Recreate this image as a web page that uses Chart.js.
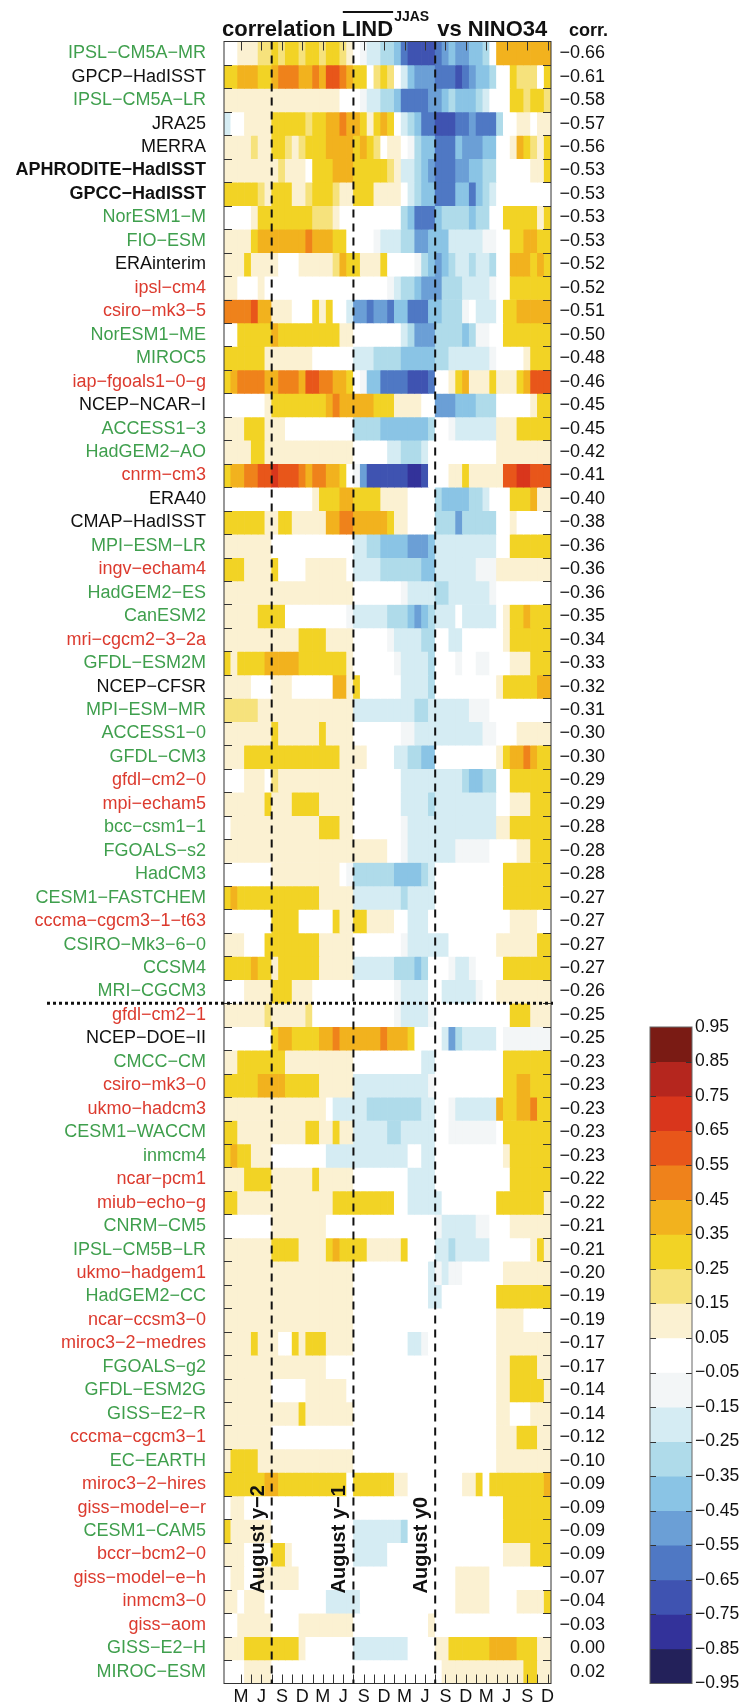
<!DOCTYPE html>
<html>
<head>
<meta charset="utf-8">
<script src="https://cdn.jsdelivr.net/npm/chart.js@4"></script>
<style>
  html, body { margin: 0; padding: 0; background: #fff; }
  #wrap { position: relative; width: 743px; height: 1707px; }
  #wrap canvas { position: absolute; left: 0; top: 0; }
</style>
</head>
<body>
<div id="wrap">
  <canvas id="heat" width="743" height="1707"></canvas>
  <canvas id="scalebar" width="743" height="1707"></canvas>
</div>
<script>
// ---- data -------------------------------------------------------------
// lag axis: 48 months, January of year y-2 through December of year y+1
const monthNames = ['Jan','Feb','Mar','Apr','May','Jun','Jul','Aug','Sep','Oct','Nov','Dec'];
const lagYears = ['y-2','y-1','y0','y+1'];
const tickMonths = [2, 5, 8, 11];           // Mar, Jun, Sep, Dec
const tickLetters = ['M', 'J', 'S', 'D'];
const augustMarks = ['August y-2', 'August y-1', 'August y0'];

// observations, reanalyses and models, sorted by corr.
const models = [
  'IPSL-CM5A-MR','GPCP-HadISST','IPSL-CM5A-LR','JRA25','MERRA','APHRODITE-HadISST','GPCC-HadISST',
  'NorESM1-M','FIO-ESM','ERAinterim','ipsl-cm4','csiro-mk3-5','NorESM1-ME','MIROC5','iap-fgoals1-0-g',
  'NCEP-NCAR-I','ACCESS1-3','HadGEM2-AO','cnrm-cm3','ERA40','CMAP-HadISST','MPI-ESM-LR','ingv-echam4',
  'HadGEM2-ES','CanESM2','mri-cgcm2-3-2a','GFDL-ESM2M','NCEP-CFSR','MPI-ESM-MR','ACCESS1-0','GFDL-CM3',
  'gfdl-cm2-0','mpi-echam5','bcc-csm1-1','FGOALS-s2','HadCM3','CESM1-FASTCHEM','cccma-cgcm3-1-t63',
  'CSIRO-Mk3-6-0','CCSM4','MRI-CGCM3','gfdl-cm2-1','NCEP-DOE-II','CMCC-CM','csiro-mk3-0','ukmo-hadcm3',
  'CESM1-WACCM','inmcm4','ncar-pcm1','miub-echo-g','CNRM-CM5','IPSL-CM5B-LR','ukmo-hadgem1','HadGEM2-CC',
  'ncar-ccsm3-0','miroc3-2-medres','FGOALS-g2','GFDL-ESM2G','GISS-E2-R','cccma-cgcm3-1','EC-EARTH',
  'miroc3-2-hires','giss-model-e-r','CESM1-CAM5','bccr-bcm2-0','giss-model-e-h','inmcm3-0','giss-aom',
  'GISS-E2-H','MIROC-ESM'
];
const ensemble = [
  'CMIP5','obs','CMIP5','obs','obs','obs','obs','CMIP5','CMIP5','obs','CMIP3','CMIP3','CMIP5','CMIP5','CMIP3',
  'obs','CMIP5','CMIP5','CMIP3','obs','obs','CMIP5','CMIP3','CMIP5','CMIP5','CMIP3','CMIP5','obs','CMIP5','CMIP5','CMIP5',
  'CMIP3','CMIP3','CMIP5','CMIP5','CMIP5','CMIP5','CMIP3','CMIP5','CMIP5','CMIP5','CMIP3','obs','CMIP5','CMIP3','CMIP3',
  'CMIP5','CMIP5','CMIP3','CMIP3','CMIP5','CMIP5','CMIP3','CMIP5','CMIP3','CMIP3','CMIP5','CMIP5','CMIP5','CMIP3','CMIP5',
  'CMIP3','CMIP3','CMIP5','CMIP3','CMIP3','CMIP3','CMIP3','CMIP5','CMIP5'
];
const referenceSets = ['APHRODITE-HadISST', 'GPCC-HadISST'];
const corr = [
  -0.66,-0.61,-0.58,-0.57,-0.56,-0.53,-0.53,-0.53,-0.53,-0.52,-0.52,-0.51,-0.50,-0.48,-0.46,
  -0.45,-0.45,-0.42,-0.41,-0.40,-0.38,-0.36,-0.36,-0.36,-0.35,-0.34,-0.33,-0.32,-0.31,-0.30,-0.30,
  -0.29,-0.29,-0.28,-0.28,-0.28,-0.27,-0.27,-0.27,-0.27,-0.26,-0.25,-0.25,-0.23,-0.23,-0.23,
  -0.23,-0.23,-0.22,-0.22,-0.21,-0.21,-0.20,-0.19,-0.19,-0.17,-0.17,-0.14,-0.14,-0.12,-0.10,
  -0.09,-0.09,-0.09,-0.09,-0.07,-0.04,-0.03,0.00,0.02
];
const splitAfter = 41;   // dotted separator below MRI-CGCM3

// lagged correlation, one row per entry of `models`, one value per month
const lagCorr = [
  [0,0,0.1,0.1,0.1,0.2,0.2,0.3,0.2,0.3,0.3,0.2, 0.3,0.3,0.2,0.3,0.3,0.2,0.1,0,-0.1,-0.2,-0.2,-0.3, -0.3,-0.4,-0.6,-0.7,-0.7,-0.7,-0.7,-0.6,-0.5,-0.4,-0.5,-0.5, -0.4,-0.4,-0.3,0,0.4,0.4,0.4,0.4,0.4,0.4,0.4,0.4],
  [0.3,0.3,0.4,0.4,0.4,0.3,0.3,0.4,0.5,0.5,0.5,0.4, 0.4,0.5,0.4,0.6,0.6,0.5,0.4,0.3,0.3,0,0.2,0.3, 0.2,0,-0.2,-0.4,-0.5,-0.5,-0.5,-0.6,-0.6,-0.6,-0.7,-0.6, -0.5,-0.4,-0.4,-0.3,0,0,0.3,0.2,0.2,0.2,0,0.3],
  [0.1,0.1,0.1,0.1,0.1,0.1,0.1,0.1,0.1,0.1,0.1,0.1, 0.1,0.1,0.1,0.1,0.1,0,0,0,-0.1,-0.2,-0.2,-0.3, -0.3,-0.4,-0.6,-0.6,-0.6,-0.6,-0.5,-0.5,-0.4,-0.3,-0.4,-0.4, -0.4,-0.3,-0.2,0,0,0,0.3,0.3,0.2,0.3,0.3,0.2],
  [-0.2,0,0,0.1,0.1,0.1,0.1,0.3,0.3,0.3,0.3,0.3, 0.2,0.3,0.3,0.4,0.4,0.5,0.4,0.4,0.3,0.1,0.3,0.4, 0.3,0,-0.2,-0.3,-0.4,-0.6,-0.6,-0.7,-0.7,-0.7,-0.6,-0.6, -0.5,-0.6,-0.6,-0.6,-0.3,0,0,0.1,0.1,0,0.1,0.1],
  [0.1,0.1,0.1,0.1,0.2,0.1,0.1,0.3,0.3,0.2,0.1,0.2, 0.3,0.3,0.3,0.4,0.4,0.4,0.4,0.3,0.4,0.3,0.2,0, 0.1,0.1,0,-0.1,-0.3,-0.4,-0.4,-0.6,-0.6,-0.6,-0.4,-0.5, -0.5,-0.5,-0.4,-0.4,0,0,0.1,0.4,0.3,0.2,0.1,0.3],
  [0.1,0.1,0.1,0.1,0.1,0.1,0.1,0.1,0.2,0.1,0.1,0.1, 0,0.3,0.3,0.3,0.4,0.4,0.4,0.3,0.3,0.3,0.3,0.3, 0.2,0.1,-0.2,-0.2,-0.3,-0.4,-0.5,-0.6,-0.6,-0.6,-0.5,-0.5, -0.4,-0.4,-0.3,-0.3,0,0,0,0,0,0.1,0.1,0.3],
  [0.3,0.3,0.3,0.3,0.3,0.2,0.1,0.3,0.3,0.3,0.1,0.1, 0.2,0.3,0.3,0.3,0.2,0.1,0.1,0.3,0.3,0.3,0.1,0.1, 0.1,0.1,0,-0.2,-0.3,-0.4,-0.4,-0.6,-0.6,-0.6,-0.4,-0.4, -0.6,-0.4,-0.3,-0.2,0,0,0,0,0,0,0,0],
  [0,0,0,0,0.1,0.3,0.3,0.3,0.3,0.3,0.3,0.3, 0.3,0.2,0.2,0.2,0.1,0,0,0,0,0,0,0, 0,0,-0.3,-0.4,-0.6,-0.6,-0.6,-0.4,-0.3,-0.3,-0.3,-0.3, -0.4,-0.3,-0.3,0,0,0.3,0.3,0.3,0.3,0.3,0.1,0.3],
  [0.1,0.1,0.1,0.1,0.3,0.4,0.4,0.4,0.4,0.4,0.4,0.4, 0.5,0.4,0.4,0.4,0.3,0.3,0,0,0,0,-0.1,-0.2, -0.2,-0.2,-0.3,-0.3,-0.5,-0.5,-0.4,-0.4,-0.4,-0.2,-0.2,-0.2, -0.2,-0.2,-0.1,-0.1,0,0,0.3,0.3,0.4,0.4,0.3,0.3],
  [0.1,0.1,0.1,0.3,0.1,0.1,0.1,0.1,0,0,0,0.1, 0.1,0.1,0.1,0.1,0.2,0.4,0.3,0.3,0.1,0.1,0.1,0.3, 0,0,0,0,-0.1,-0.3,-0.4,-0.5,-0.4,-0.3,-0.2,-0.2, -0.3,-0.2,-0.2,-0.3,0,0,0.4,0.4,0.4,0.3,0.4,0.3],
  [0.1,0.1,0,0,0,0.1,0,0,0,0,0,0, 0,0,0,0,0,0,0,0,0,0,0,0, -0.1,-0.2,-0.3,-0.3,-0.4,-0.5,-0.5,-0.5,-0.3,-0.3,-0.3,-0.2, -0.2,-0.2,-0.2,-0.1,0,0,0.3,0.3,0.3,0.3,0.3,0.3],
  [0.5,0.5,0.5,0.5,0.6,0.4,0.4,0.1,0.1,0.1,0,0, 0,0.3,0.1,0.3,0,0,-0.2,-0.5,-0.5,-0.6,-0.5,-0.5, -0.6,-0.4,-0.4,-0.6,-0.6,-0.6,-0.4,-0.4,-0.3,-0.3,-0.3,-0.1, 0,-0.2,-0.2,-0.2,0,0.3,0.3,0.4,0.4,0.4,0.4,0.4],
  [0,0,0.3,0.3,0.3,0.3,0.3,0.4,0.3,0.3,0.3,0.3, 0.3,0.3,0.3,0.3,0.3,0.1,0.1,0,0,0,0,0, 0,0,-0.2,-0.3,-0.5,-0.5,-0.5,-0.3,-0.3,-0.3,-0.3,-0.4, -0.3,-0.1,-0.1,0,0,0.3,0.3,0.3,0.3,0.3,0.3,0.3],
  [0.3,0.3,0.3,0.3,0.3,0.3,0.1,0.1,0.1,0.1,0.1,0.1, 0.1,0,0,0,0,0,0,-0.2,-0.2,-0.2,-0.3,-0.3, -0.3,-0.3,-0.4,-0.4,-0.4,-0.4,-0.4,-0.3,-0.3,-0.2,-0.2,-0.2, -0.2,-0.2,-0.2,-0.1,0,0,0,0,0.1,0.3,0.3,0.3],
  [0.3,0.4,0.5,0.5,0.5,0.5,0.4,0.4,0.5,0.5,0.5,0.4, 0.6,0.6,0.5,0.5,0.4,0.4,0.3,0,-0.1,-0.4,-0.4,-0.6, -0.6,-0.6,-0.6,-0.7,-0.7,-0.7,-0.6,0,0,0.1,0.3,0.4, 0.1,0.1,0.1,0.3,0.1,0.1,0.1,0.3,0.4,0.6,0.6,0.6],
  [0,0,0,0,0,0,0.1,0.3,0.3,0.3,0.3,0.3, 0.3,0.3,0.3,0.4,0.5,0.4,0.4,0.4,0.4,0.4,0.3,0.3, 0.3,0.1,0.1,0.1,0.1,0,0,-0.5,-0.5,-0.5,-0.4,-0.4, -0.4,-0.3,-0.3,-0.3,0,0,0,0,0,0.1,0.3,0.3],
  [0.1,0.1,0.1,0.3,0.3,0.3,0.1,0.1,0.1,0,0,0, 0,0,0,0,0,0,0,-0.3,-0.3,-0.3,-0.3,-0.4, -0.4,-0.4,-0.4,-0.4,-0.4,-0.4,-0.3,0,0,-0.1,-0.2,-0.2, -0.2,-0.2,-0.2,-0.2,0.1,0.1,0.1,0.3,0.3,0.3,0.3,0.3],
  [0.1,0.1,0.1,0.1,0.3,0.3,0.1,0.1,0.1,0.1,0.1,0.1, 0.1,0.1,0.1,0.1,0.1,0.1,0.1,0,0,0,0,0, -0.2,-0.2,-0.3,-0.3,-0.3,-0.2,0,0,0,0,0,0, 0,0,0,0,0.1,0.1,0.1,0.1,0.1,0.1,0.1,0.1],
  [0.3,0.4,0.4,0.5,0.5,0.6,0.6,0.7,0.6,0.6,0.6,0.5, 0.4,0.5,0.5,0.4,0.4,0.3,0,-0.1,-0.5,-0.7,-0.7,-0.7, -0.7,-0.7,-0.7,-0.8,-0.8,-0.7,0,0,0,0.1,0.1,0.3, 0.1,0.1,0.1,0.1,0.1,0.6,0.6,0.7,0.7,0.6,0.6,0.6],
  [0,0,0,0,0,0,0,0,0,0,0,0, 0,0.1,0.3,0.3,0.3,0.4,0.4,0.3,0.3,0.3,0.3,0.1, 0.1,0.1,0.1,0,0,0,0,-0.3,-0.4,-0.4,-0.4,-0.4, -0.3,-0.3,-0.2,0,0,0,0.3,0.3,0.3,0.4,0.1,0.1],
  [0.3,0.3,0.3,0.3,0.3,0.3,0.1,0.1,0.3,0.3,0.1,0.1, 0.1,0.1,0.1,0.4,0.4,0.5,0.5,0.4,0.4,0.4,0.4,0.4, 0.3,0.1,0.1,0,0,0,0,-0.3,-0.3,-0.3,-0.5,-0.3, -0.3,-0.3,-0.3,-0.3,0,0,0.1,0,0,0,0,0],
  [0.1,0.1,0.1,0.1,0.1,0.1,0.1,0,0,0,0,0, 0,0,0,0,0,0,0,-0.2,-0.2,-0.3,-0.3,-0.4, -0.4,-0.4,-0.4,-0.5,-0.5,-0.5,-0.4,-0.2,-0.2,-0.2,-0.2,-0.2, -0.2,-0.2,-0.2,-0.2,0,0,0.3,0.3,0.3,0.3,0.3,0.3],
  [0.3,0.3,0.3,0.1,0.1,0.1,0.1,0.3,0,0,0,0, 0.1,0.1,0.1,0.1,0.1,0.1,0,-0.2,-0.2,-0.2,-0.2,-0.3, -0.3,-0.3,-0.3,-0.3,-0.3,-0.4,-0.4,-0.2,-0.2,-0.2,-0.2,-0.2, -0.2,-0.1,-0.1,-0.1,0.1,0.1,0.1,0.1,0.1,0.1,0.1,0.1],
  [0.1,0.1,0.1,0.1,0.1,0.1,0.1,0.1,0.1,0.1,0.1,0.1, 0.1,0.1,0.1,0.1,0.1,0.1,0.1,0,0,0,0,0, 0,0,-0.1,-0.2,-0.2,-0.2,-0.2,-0.3,-0.3,-0.2,-0.2,-0.2, -0.2,-0.2,-0.2,-0.1,0,0,0,0,0,0,0,0],
  [0.1,0.1,0.1,0.1,0.1,0.3,0.3,0.3,0.3,0,0,0, 0,0,0,0,0,0,-0.1,-0.2,-0.2,-0.2,-0.2,-0.2, -0.3,-0.3,-0.3,-0.4,-0.5,-0.4,-0.3,-0.2,-0.2,-0.2,0,-0.2, -0.2,-0.2,-0.2,-0.2,0,0.1,0.3,0.3,0.4,0.3,0.3,0.3],
  [0.1,0.1,0.1,0.1,0.1,0.1,0.1,0.1,0.1,0.1,0.1,0.3, 0.3,0.3,0.3,0.1,0.1,0.1,0.1,0,0,0,0,0, -0.1,-0.2,-0.2,-0.2,-0.2,-0.3,-0.3,0,0,-0.2,-0.2,0, 0,0,0,0,0,0.1,0.3,0.3,0.3,0.3,0.3,0.3],
  [0.3,0.1,0.3,0.3,0.3,0.3,0.4,0.4,0.4,0.4,0.4,0.3, 0.3,0.3,0.3,0.3,0.3,0.3,0.1,0,0,0,0,0, 0,-0.1,-0.2,-0.2,-0.2,-0.2,-0.3,0,0,0,-0.1,0, 0,-0.1,-0.1,0,0,0,0.1,0.1,0.1,0.3,0.3,0.3],
  [0.1,0.1,0.1,0.1,0,0,0,0.1,0.1,0.1,0,0, 0,0,0,0,0.4,0.4,0.1,0.3,0,0,0,0, 0,0,-0.2,-0.2,-0.2,-0.2,-0.3,0,0,0,0,0, 0,0,0,0,0.1,0.3,0.3,0.3,0.3,0.3,0.4,0.4],
  [0.2,0.2,0.2,0.2,0.2,0.1,0.1,0.1,0.1,0.1,0.1,0.1, 0.1,0.1,0.1,0.1,0.1,0.1,0.1,-0.2,-0.2,-0.2,-0.2,-0.2, -0.2,-0.2,-0.2,-0.2,-0.3,-0.3,-0.2,-0.2,-0.2,-0.2,-0.2,-0.2, -0.1,-0.1,-0.1,0,0,0,0,0,0,0,0,0],
  [0.1,0.1,0.1,0.1,0.1,0.1,0.1,0.3,0.1,0.1,0.1,0.1, 0.1,0.1,0.3,0.1,0.1,0.1,0.1,0,0,0,0,0, 0,0,-0.1,-0.1,-0.2,-0.2,-0.2,-0.2,-0.2,-0.2,-0.2,-0.2, -0.2,-0.2,-0.1,-0.1,0,0,0,0.1,0.1,0.1,0.1,0.1],
  [0.1,0.1,0.1,0.3,0.3,0.3,0.3,0.3,0.3,0.3,0.3,0.3, 0.3,0.3,0.3,0.3,0.3,0.1,0.1,0.1,0.1,0,0,0, 0,-0.2,-0.2,-0.3,-0.3,-0.4,-0.4,0,0,0,0,0, 0,0,0,0,0.1,0.3,0.4,0.4,0.5,0.4,0.3,0.3],
  [0,0,0,0.1,0.1,0.1,0,0.2,0.1,0.1,0.1,0.1, 0.1,0.1,0.1,0.1,0.1,0.1,0.1,0,0,0,0,0, 0,0,-0.2,-0.2,-0.2,-0.2,-0.2,-0.2,-0.2,-0.2,-0.2,-0.3, -0.4,-0.4,-0.3,-0.3,0,0,0.3,0.3,0.3,0.3,0.3,0.3],
  [0.1,0.1,0.1,0.1,0.1,0.1,0.3,0.1,0.1,0.1,0.3,0.3, 0.3,0.3,0.1,0.1,0.1,0.1,0.1,0,0,0,0,0, 0,0,-0.2,-0.2,-0.2,-0.2,-0.3,-0.2,-0.2,-0.2,-0.2,-0.2, -0.2,-0.2,-0.2,-0.2,0,0,0.1,0.1,0.1,0.3,0.3,0.3],
  [0,0.1,0.1,0.1,0.1,0.1,0.1,0.1,0.1,0.1,0.1,0.1, 0.1,0.1,0.3,0.3,0.3,0.1,0.1,0,0,0,0,0, 0,0,-0.1,-0.2,-0.2,-0.2,-0.2,-0.2,-0.2,-0.2,-0.2,-0.2, -0.2,-0.2,-0.2,-0.2,0.1,0.1,0.3,0.3,0.3,0.3,0.3,0.3],
  [0.1,0.1,0.1,0.1,0.1,0.1,0.1,0.1,0.1,0.1,0.1,0.1, 0.1,0.1,0.1,0.1,0.1,0.1,0.1,0.1,0.1,0.1,0.1,0.1, 0,0,-0.1,-0.2,-0.2,-0.2,-0.2,-0.2,-0.2,-0.2,-0.1,-0.1, -0.1,-0.1,-0.1,0,0,0,0,0.1,0.1,0.3,0.3,0.3],
  [0,0,0,0,0,0,0,0.1,0.1,0.1,0.1,0.1, 0.1,0.1,0.1,0.1,0.1,0,-0.1,-0.3,-0.3,-0.3,-0.3,-0.3, -0.3,-0.4,-0.4,-0.4,-0.4,-0.3,-0.2,0,0,0,0,0, 0,0,0,0,0,0.3,0.3,0.3,0.3,0.3,0.3,0.3],
  [0.3,0.4,0.3,0.3,0.3,0.3,0.3,0.3,0.3,0.3,0.3,0.3, 0.3,0.3,0.1,0.1,0.1,0.1,0.1,-0.2,-0.2,-0.2,-0.2,-0.2, -0.2,-0.2,-0.3,-0.2,-0.2,-0.2,-0.2,0,0,0,0,0, 0,0,0,0,0,0.3,0.3,0.3,0.3,0.3,0.3,0.3],
  [0,0,0,0,0,0,0,0.3,0.3,0.3,0.3,0, 0,0,0,0,0.3,0.1,0.1,0.3,0.3,0.1,0.1,0.1, 0.1,0,0,-0.2,-0.2,-0.2,0,0,0,0,0,0, 0,0,0,0,0,0,0.1,0.1,0.1,0.1,0,0],
  [0.1,0.1,0.1,0,0,0,0.3,0.3,0.3,0.3,0.3,0.3, 0.3,0.3,0.1,0.1,0.1,0.1,0.1,0,0,0,0,0, 0,0,-0.1,-0.2,-0.2,-0.2,-0.2,-0.2,-0.2,0,0,0, 0,0,0,0,0.1,0.1,0.1,0.1,0.1,0.1,0.3,0.3],
  [0.3,0.3,0.3,0.3,0.4,0.3,0.3,0.1,0.3,0.3,0.3,0.3, 0.3,0.3,0.1,0.1,0.1,0.1,0.1,-0.2,-0.2,-0.2,-0.2,-0.2, -0.2,-0.3,-0.3,-0.3,-0.4,-0.3,0,0,0,-0.1,-0.2,-0.2, -0.1,0,0,0,0,0.3,0.3,0.3,0.3,0.3,0.3,0.3],
  [0,0,0,0.1,0.1,0.1,0.1,0.3,0.3,0.3,0.1,0.1, 0.1,0,0,0,0,0,0,0,0,0,0,0, 0,-0.1,-0.2,-0.2,-0.2,-0.2,0,0,-0.2,-0.2,-0.2,-0.2, -0.2,-0.1,0,0,0.1,0.1,0.1,0.1,0.1,0.1,0.1,0.1],
  [0.1,0.1,0.1,0.1,0.1,0.1,0.2,0.1,0.1,0.1,0.1,0.1, 0.2,0,0,0,0,0,0,0,0,0,0,0, 0,-0.1,-0.2,-0.2,-0.2,-0.2,-0.1,0,0,0,0,0, 0,0,0,0,0,0,0.3,0.3,0.3,0.1,0.1,0.1],
  [0,0,0,0,0,0,0,0.3,0.4,0.4,0.3,0.3, 0.3,0.3,0.4,0.4,0.5,0.4,0.4,0.4,0.4,0.4,0.4,0.5, 0.4,0.4,0.4,0.3,0,0,0,0,-0.2,-0.5,-0.3,-0.2, -0.2,-0.2,-0.2,-0.2,0,-0.1,-0.1,-0.1,-0.1,-0.1,-0.1,-0.1],
  [0.1,0.1,0.3,0.3,0.3,0.3,0.3,0.3,0.3,0.1,0.1,0.1, 0.1,0.1,0.1,0.1,0.1,0.1,0.1,0,0,0,0,0, 0,0,0,0,0,-0.2,-0.2,0,0,0,0,0, 0,0,0,0,0,0.3,0.3,0.3,0.3,0.3,0.3,0.3],
  [0.3,0.3,0.3,0.3,0.3,0.4,0.4,0.4,0.4,0.3,0.3,0.3, 0.3,0.3,0.1,0.1,0.1,0.1,0.1,-0.2,-0.2,-0.2,-0.2,-0.2, -0.2,-0.2,-0.2,-0.2,-0.2,-0.2,-0.1,0,0,0,0,0, 0,0,0,0,0,0.3,0.3,0.4,0.4,0.3,0.3,0.3],
  [0.1,0.1,0.1,0.1,0.1,0.1,0.1,0.1,0.1,0.1,0.1,0.1, 0.1,0.1,0.1,0,-0.2,-0.2,-0.2,-0.2,-0.2,-0.3,-0.3,-0.3, -0.3,-0.3,-0.3,-0.3,-0.3,-0.2,-0.2,0,0,-0.1,-0.2,-0.2, -0.2,-0.2,-0.2,-0.2,0.4,0.3,0.3,0.4,0.4,0.5,0.3,0.3],
  [0.3,0.3,0.1,0.1,0.1,0.1,0.1,0.1,0.1,0.1,0.1,0.1, 0.3,0.3,0.1,0.1,0.3,0.1,0.1,-0.2,-0.2,-0.2,-0.2,-0.2, -0.3,-0.3,-0.2,-0.2,-0.2,-0.2,-0.2,0,0,-0.1,-0.1,-0.1, -0.1,-0.1,-0.1,-0.1,0,0.3,0.3,0.3,0.3,0.3,0.3,0.3],
  [0.3,0.4,0.3,0.3,0.1,0.1,0.1,0,0,0,0,0, 0,0,0,-0.2,-0.2,-0.2,-0.2,-0.2,-0.2,-0.2,-0.2,-0.2, -0.2,-0.2,-0.2,0,0,-0.2,-0.2,0,0,0,0,0, 0,0,0,0,0,0.1,0.3,0.3,0.3,0.3,0.3,0.3],
  [0.1,0.1,0.1,0.3,0.3,0.3,0.3,0.1,0.1,0.1,0.1,0.1, 0.1,0.3,0.1,0.1,0.1,0.1,0.1,0,0,0,0,0, 0,0,0,-0.2,-0.2,-0.2,-0.2,0,0,0,0,0, 0,0,0,0,0,0,0.3,0.3,0.3,0.3,0.3,0.3],
  [0.3,0.3,0.1,0.1,0.1,0.1,0.1,0.1,0.1,0.1,0.1,0.1, 0.1,0.1,0.1,0.1,0.3,0.3,0.3,0.3,0.3,0.3,0.3,0.3, 0.3,0,0,-0.2,-0.2,-0.2,-0.2,-0.2,0,0,0,0, 0,0,0,0,0.3,0.3,0.3,0.3,0.3,0.3,0.3,0.1],
  [0,0,0,0,0,0,0,0.1,0.1,0.1,0.1,0.1, 0.1,0.1,0.1,0,0,0,0,0,0,0,0,0, 0,0,0,0,0,0,0,-0.1,-0.2,-0.2,-0.2,-0.2, -0.2,-0.1,-0.1,0,0,0,0.1,0.1,0.1,0.1,0.1,0.1],
  [0.1,0.1,0.1,0.1,0.1,0.1,0.1,0.3,0.3,0.3,0.3,0.1, 0.1,0.1,0.1,0.3,0.4,0.3,0.3,0.3,0.3,0.1,0.1,0.1, 0.1,0.1,0.3,0,0,0,0,-0.2,-0.2,-0.3,-0.2,-0.2, -0.2,-0.2,-0.2,0,0,0,0,0,0,0.1,0.3,0.1],
  [0.1,0.1,0.1,0.1,0.1,0.1,0.1,0.1,0.1,0.1,0.1,0.1, 0.1,0.1,0.1,0.1,0.1,0.1,0.1,0,0,0,0,0, 0,0,0,0,0,0,-0.2,-0.1,-0.2,-0.1,-0.1,0, 0,0,0,0,0,0.1,0.1,0.1,0.1,0.1,0.1,0.1],
  [0.1,0.1,0.1,0.1,0.1,0.1,0.1,0.1,0.1,0.1,0.1,0.1, 0.1,0.1,0.1,0.1,0.1,0.1,0.1,0,0,0,0,0, 0,0,0,0,0,0,-0.2,-0.2,0,0,0,0, 0,0,0,0,0.3,0.3,0.3,0.3,0.3,0.3,0.3,0.3],
  [0.1,0.1,0.1,0.1,0.1,0.1,0.1,0.1,0.1,0.1,0.1,0.1, 0.1,0.1,0.1,0.1,0.1,0.1,0.1,0,0,0,0,0, 0,0,0,0,0,0,0,0,0,0,0,0, 0,0,0,0,0.1,0.1,0.1,0.1,0,0,0,0],
  [0.1,0.1,0.1,0.1,0.3,0.1,0.1,0.1,0,0,0.3,0.1, 0.3,0.3,0.3,0.1,0.1,0.1,0.1,0,0,0,0,0, 0,0,0,-0.2,-0.2,-0.1,0,0,0,0,0,0, 0,0,0,0,0.1,0.1,0.1,0.1,0.1,0.1,0.1,0.1],
  [0.1,0.1,0.1,0.1,0.1,0.1,0.1,0.1,0.1,0.1,0.1,0.1, 0.1,0.1,0.1,0,0,0,0,0,0,0,0,0, 0,0,0,0,0,0,0,0,0,0,0,0, 0,0,0,0,0.1,0.1,0.3,0.3,0.3,0.3,0.1,0.1],
  [0.1,0.1,0.1,0.1,0.1,0.1,0.1,0,0,0,0,0, 0.1,0.1,0.1,0.1,0.1,0.1,0,0,0,0,0,0, 0,0,0,0,0,0,0,0,0,0,0,0, 0,0,0,0,0.1,0.1,0.3,0.3,0.3,0.3,0.3,0.1],
  [0.1,0.1,0.1,0.1,0.1,0.1,0.1,0.1,0.1,0.1,0.1,0.3, 0.1,0.1,0.1,0.1,0.1,0.1,0.1,0,0,0,0,0, 0,0,0,0,0,0,0,0,0,0,0,0, 0,0,0,0,0.1,0.1,0,0,0,0.1,0.1,0.1],
  [0.1,0.1,0.1,0.1,0.1,0.1,0.1,0,0,0,0,0, 0,0,0,0,0,0,0,0,0,0,0,0, 0,0,0,0,0,0,0,0,0,0,0,0, 0,0,0,0,0.1,0.1,0.1,0.3,0.3,0.3,0.1,0.1],
  [0.1,0.3,0.3,0.3,0.3,0.1,0.1,0.1,0.1,0.1,0.1,0.1, 0.1,0.1,0.1,0.1,0.1,0.1,0.1,0,0,0,0,0, 0,0,0,0,0,0,0,0,0,0,0,0, 0,0,0,0,0.1,0.1,0.1,0.1,0.1,0.1,0.1,0.1],
  [0.3,0.3,0.3,0.3,0.3,0.3,0.4,0.4,0.3,0.3,0.3,0.3, 0.3,0.3,0.3,0.3,0.3,0.3,0,0.3,0.3,0.3,0.3,0.3, 0.3,0.1,0.1,0,0,0,0,0,0,0,0,0.1, 0.1,0.3,0,0.3,0.3,0.3,0.3,0.3,0.3,0.3,0.3,0.4],
  [0,0.1,0.1,0,0,0,0,0,0,0,0,0, 0,0,0,0,0,0,0,0,0,0,0,0, 0,0,0,0,0,0,0,0,0,0,0,0, 0,0,0,0,0,0.3,0.3,0.3,0.3,0.3,0.3,0.3],
  [0.3,0.1,0.1,0.1,0.1,0.1,0.1,0,0,0,0,0, 0,0,0,0,0,0,0,-0.2,-0.2,-0.2,-0.2,-0.2, -0.2,-0.2,-0.3,0,0,0,0,0,0,0,0,0, 0,0,0,0,0,0.3,0.3,0.3,0.3,0.3,0.3,0.3],
  [0.1,0.1,0.1,0,0,0,0,0.3,0.3,0.1,0,0, 0,0,0,0,0,0,0,-0.2,-0.2,-0.2,-0.2,-0.2, 0,0,0,0,0,0,0,0,0,0,0,0, 0,0,0,0,0,0.1,0.1,0.1,0.1,0.3,0.3,0.3],
  [0,0.1,0.1,0,0,0.1,0.1,0.1,0.1,0.1,0.1,0, 0,0,0,0,0,0,0,0,0,0,0,0, 0,0,0,0,0,0,0,0,0,0,0.1,0.1, 0.1,0.1,0.1,0,0,0,0,0,0,0,0,0],
  [0.1,0.1,0,0.1,0.1,0.1,0,0,0,0,0,0, 0,0,0,-0.2,-0.2,-0.2,-0.2,-0.2,0,0,0,0, 0,0,0,0,0,0,0,0,0,0,0.1,0.1, 0.1,0.1,0.1,0,0,0,0,0.1,0.1,0.1,0.1,0.3],
  [0,0,0.1,0.1,0.1,0.1,0.1,0,0,0,0,0.1, 0.1,0.1,0.1,0.1,0.1,0.1,0.1,0,0,0,0,0, 0,0,0,0,0,0,0.1,0,0,0,0,0, 0,0,0,0,0,0,0,0,0,0,0,0],
  [0.1,0.1,0.1,0.3,0.3,0.3,0.3,0.3,0.3,0.3,0.3,0.1, 0,0,0,0,0,0,0,-0.2,-0.2,-0.2,-0.2,-0.2, -0.2,-0.2,-0.2,0,0,0,0,0.1,0.1,0.3,0.3,0.3, 0.3,0.3,0.3,0.4,0.4,0.4,0.4,0.3,0.3,0.3,0.1,0.1],
  [0,0,0,0.1,0.1,0.1,0.1,0,0,0,0,0, 0,0,0,0,0,0,0,0,0,0,0,0, 0,0,0,0,0,0,0,0,0.1,0.1,0.1,0.1, 0.1,0.1,0.1,0.1,0.1,0.1,0.1,0.1,0.3,0.3,0.1,0.1]
];

// colour scale: 0.1-wide classes between the colour-bar edges
const scaleEdges = [0.95,0.85,0.75,0.65,0.55,0.45,0.35,0.25,0.15,0.05,-0.05,-0.15,-0.25,-0.35,-0.45,-0.55,-0.65,-0.75,-0.85,-0.95];
const classColors = [
  '#7a1b14', '#b5261e', '#d9361c', '#e8561a', '#ef821b', '#f2b21e', '#f2d325', '#f6e27c', '#fbf1d2', '#ffffff',
  '#f3f6f7', '#d5ecf3', '#afdbea', '#8ac4e5', '#6b9fd6', '#4f78c4', '#3f53b1', '#33329a', '#23215a'
];

// ---- helpers ----------------------------------------------------------
const FONT = '"Liberation Sans", Arial, Helvetica, sans-serif';
const MINUS = '\u2212';
const categories = lagYears.flatMap(y => monthNames.map(m => m + ' ' + y));

function classIndex(v) {
  for (let i = 0; i < classColors.length; i++) {
    if (v <= scaleEdges[i] && v > scaleEdges[i + 1]) return i;
  }
  return v > 0 ? 0 : classColors.length - 1;
}
const colorOf = v => classColors[classIndex(v)];
const dash = s => s.replace(/-/g, MINUS);
const labelColor = { obs: '#111111', CMIP5: '#3f9f4d', CMIP3: '#dc3a2e' };

// ---- heat map -----------------------------------------------------------
const heatDatasets = lagCorr.map((row, r) => ({
  label: models[r],
  data: row.map(() => [r, r + 1]),
  backgroundColor: row.map(colorOf),
  borderWidth: 0,
  grouped: false,
  categoryPercentage: 1,
  barPercentage: 1
}));

const heatDecor = {
  id: 'heatDecor',
  afterDatasetsDraw(chart) {
    const { ctx, chartArea: a, scales: { x, y } } = chart;
    const px = v => x.getPixelForValue(v);
    ctx.save();

    // frame
    ctx.strokeStyle = '#333';
    ctx.lineWidth = 1;
    ctx.strokeRect(a.left, a.top, a.right - a.left, a.bottom - a.top);

    // row ticks, left and right
    ctx.beginPath();
    for (let r = 1; r < models.length; r++) {
      const yy = Math.round(y.getPixelForValue(r)) + 0.5;
      ctx.moveTo(a.left, yy); ctx.lineTo(a.left + 8, yy);
      ctx.moveTo(a.right, yy); ctx.lineTo(a.right - 8, yy);
    }
    ctx.stroke();

    // month ticks: top at Mar/Jun/Sep/Dec, bottom every month and a half
    ctx.beginPath();
    for (let yr = 0; yr < lagYears.length; yr++) {
      tickMonths.forEach(m => {
        const xx = Math.round(px(yr * 12 + m)) + 0.5;
        ctx.moveTo(xx, a.top); ctx.lineTo(xx, a.top + 9);
      });
    }
    for (let v = tickMonths[0]; v <= categories.length - 1; v += 1.5) {
      const xx = Math.round(px(v)) + 0.5;
      ctx.moveTo(xx, a.bottom); ctx.lineTo(xx, a.bottom - 9);
    }
    ctx.stroke();

    // dashed lines at the start of each August
    ctx.setLineDash([8, 6]);
    ctx.lineWidth = 2;
    ctx.strokeStyle = '#111';
    const augX = [];
    for (let yr = 0; yr < augustMarks.length; yr++) {
      const xx = px(yr * 12 + 7 - 0.5);
      augX.push(xx);
      ctx.beginPath();
      ctx.moveTo(xx, a.top); ctx.lineTo(xx, a.bottom);
      ctx.stroke();
    }

    // dotted separator
    ctx.setLineDash([3, 3]);
    ctx.lineWidth = 3;
    const ys = y.getPixelForValue(splitAfter);
    ctx.beginPath();
    ctx.moveTo(47, ys); ctx.lineTo(a.right + 2, ys);
    ctx.stroke();
    ctx.setLineDash([]);

    // August labels (rotated)
    ctx.fillStyle = '#111';
    ctx.font = 'bold 20px ' + FONT;
    ctx.textAlign = 'left';
    ctx.textBaseline = 'alphabetic';
    augX.forEach((xx, i) => {
      ctx.save();
      ctx.translate(xx - 8, a.bottom - 90);
      ctx.rotate(-Math.PI / 2);
      ctx.fillText(dash(augustMarks[i]), 0, 0);
      ctx.restore();
    });

    // row names
    ctx.textBaseline = 'middle';
    ctx.textAlign = 'right';
    models.forEach((name, r) => {
      const yc = y.getPixelForValue(r + 0.5);
      ctx.font = (referenceSets.includes(name) ? 'bold ' : '') + '18px ' + FONT;
      ctx.fillStyle = labelColor[ensemble[r]];
      ctx.fillText(dash(name), a.left - 18, yc);
    });

    // corr. values
    ctx.font = '18px ' + FONT;
    ctx.fillStyle = '#111';
    corr.forEach((c, r) => {
      const yc = y.getPixelForValue(r + 0.5);
      ctx.fillText(dash(c.toFixed(2)), 605, yc);
    });

    // month letters
    ctx.textAlign = 'center';
    for (let yr = 0; yr < lagYears.length; yr++) {
      tickMonths.forEach((m, k) => {
        ctx.fillText(tickLetters[k], px(yr * 12 + m), a.bottom + 14);
      });
    }

    // title
    ctx.textAlign = 'left';
    ctx.textBaseline = 'alphabetic';
    ctx.font = 'bold 22px ' + FONT;
    let tx = 222;
    const base = 36;
    ctx.fillText('correlation ', tx, base);
    tx += ctx.measureText('correlation ').width;
    ctx.fillText('LIND', tx, base);
    const wL = ctx.measureText('LIND').width;
    ctx.fillRect(tx + 1, 11, wL - 1, 2);
    tx += wL + 1;
    ctx.font = 'bold 14px ' + FONT;
    ctx.fillText('JJAS', tx, 21);
    tx += ctx.measureText('JJAS').width;
    ctx.font = 'bold 22px ' + FONT;
    ctx.fillText(' vs NINO34', tx + 2, base);
    ctx.font = 'bold 18px ' + FONT;
    ctx.fillText('corr.', 569, base);

    ctx.restore();
  }
};

new Chart(document.getElementById('heat'), {
  type: 'bar',
  data: { labels: categories, datasets: heatDatasets },
  options: {
    responsive: false,
    animation: false,
    events: [],
    layout: { padding: { left: 224, right: 192, top: 41.5, bottom: 23.5 } },
    scales: {
      x: { type: 'category', display: false, offset: true },
      y: { type: 'linear', min: 0, max: models.length, reverse: true, display: false }
    },
    plugins: { legend: { display: false }, tooltip: { enabled: false } }
  },
  plugins: [heatDecor]
});

// ---- colour bar -----------------------------------------------------------
const barDatasets = classColors.map((c, i) => ({
  data: [[scaleEdges[i + 1], scaleEdges[i]]],
  backgroundColor: c,
  borderWidth: 0,
  grouped: false,
  categoryPercentage: 1,
  barPercentage: 1
}));

const barDecor = {
  id: 'barDecor',
  afterDatasetsDraw(chart) {
    const { ctx, chartArea: a, scales: { y } } = chart;
    ctx.save();
    ctx.strokeStyle = '#333';
    ctx.lineWidth = 1;
    ctx.beginPath();
    scaleEdges.slice(1, -1).forEach(v => {
      const yy = Math.round(y.getPixelForValue(v)) + 0.5;
      ctx.moveTo(a.left, yy); ctx.lineTo(a.left + 6, yy);
      ctx.moveTo(a.right, yy); ctx.lineTo(a.right - 6, yy);
    });
    ctx.stroke();
    ctx.strokeStyle = '#666';
    ctx.strokeRect(a.left, a.top, a.right - a.left, a.bottom - a.top);

    ctx.fillStyle = '#111';
    ctx.font = '17.5px ' + FONT;
    ctx.textAlign = 'left';
    ctx.textBaseline = 'middle';
    scaleEdges.forEach(v => {
      ctx.fillText(dash(v.toFixed(2)), a.right + 3, y.getPixelForValue(v));
    });
    ctx.restore();
  }
};

new Chart(document.getElementById('scalebar'), {
  type: 'bar',
  data: { labels: ['corr'], datasets: barDatasets },
  options: {
    responsive: false,
    animation: false,
    events: [],
    layout: { padding: { left: 650, right: 51, top: 1027, bottom: 23.5 } },
    scales: {
      x: { type: 'category', display: false, offset: true },
      y: { type: 'linear', min: -0.95, max: 0.95, display: false }
    },
    plugins: { legend: { display: false }, tooltip: { enabled: false } }
  },
  plugins: [barDecor]
});
</script>
</body>
</html>
